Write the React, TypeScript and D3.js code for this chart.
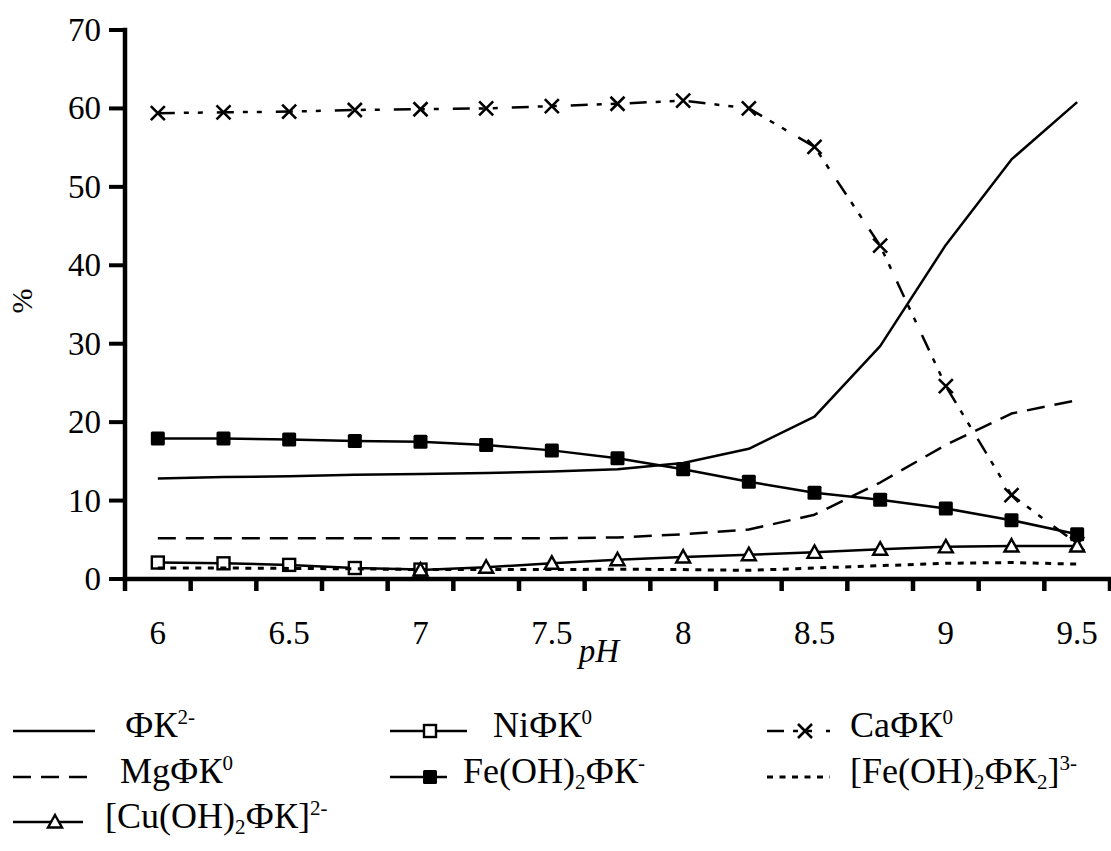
import { useEffect, useRef } from 'react';
import * as d3 from 'd3';

const WIDTH = 1111;
const HEIGHT = 851;
const PLOT = { left: 125, right: 1110, top: 30, bottom: 579 };
const FONT = "'Liberation Serif', 'Times New Roman', serif";
const TICK_FONT = 33;
const LEGEND_FONT = 36;
const SMALL_FONT = 21;

// pH categories (Excel category axis, label on every other one)
const PH = ['6', '6.25', '6.5', '6.75', '7', '7.25', '7.5', '7.75', '8', '8.25', '8.5', '8.75', '9', '9.25', '9.5'];
const Y_TICKS = [0, 10, 20, 30, 40, 50, 60, 70];

// series values, %
const PHI_K = [12.8, 13.0, 13.1, 13.3, 13.4, 13.5, 13.7, 14.0, 14.8, 16.6, 20.7, 29.7, 42.6, 53.5, 60.8];
const NI_PHI_K = [2.1, 2.0, 1.8, 1.4, 1.2, null, null, null, null, null, null, null, null, null, null];
const CA_PHI_K = [59.4, 59.5, 59.6, 59.8, 59.9, 60.0, 60.3, 60.6, 61.0, 60.0, 55.1, 42.5, 24.6, 10.7, 4.5];
const MG_PHI_K = [5.2, 5.2, 5.2, 5.2, 5.2, 5.2, 5.2, 5.3, 5.7, 6.3, 8.2, 12.3, 17.1, 21.1, 22.8];
const FE_OH2_PHI_K = [17.9, 17.9, 17.8, 17.6, 17.5, 17.1, 16.4, 15.4, 14.0, 12.4, 11.0, 10.1, 9.0, 7.5, 5.7];
const FE_OH2_PHI_K2 = [1.4, 1.4, 1.35, 1.3, 1.2, 1.2, 1.2, 1.25, 1.2, 1.1, 1.4, 1.7, 2.0, 2.1, 1.9];
const CU_OH2_PHI_K = [null, null, null, null, 1.15, 1.5, 2.0, 2.45, 2.8, 3.1, 3.4, 3.8, 4.1, 4.2, 4.2];

type Seg = { t: string; sup?: boolean; sub?: boolean };

const SERIES = [
  { key: 'phik', values: PHI_K, dash: null, marker: null,
    label: [{ t: 'ФК' }, { t: '2-', sup: true }] as Seg[],
    legend: { x0: 13, x1: 95, mx: 0, tx: 125, row: 0 } },
  { key: 'ni', values: NI_PHI_K, dash: null, marker: 'openSquare',
    label: [{ t: 'NiФК' }, { t: '0', sup: true }] as Seg[],
    legend: { x0: 390, x1: 467, mx: 430, tx: 493, row: 0 } },
  { key: 'ca', values: CA_PHI_K, dash: '17,9,5,9,5,14', marker: 'cross',
    label: [{ t: 'CaФК' }, { t: '0', sup: true }] as Seg[],
    legend: { x0: 767, x1: 830, mx: 805, tx: 850, row: 0 } },
  { key: 'mg', values: MG_PHI_K, dash: '18,10', marker: null,
    label: [{ t: 'MgФК' }, { t: '0', sup: true }] as Seg[],
    legend: { x0: 13, x1: 90, mx: 0, tx: 120, row: 1 } },
  { key: 'fe', values: FE_OH2_PHI_K, dash: null, marker: 'filledSquare',
    label: [{ t: 'Fe(OH)' }, { t: '2', sub: true }, { t: 'ФК' }, { t: '-', sup: true }] as Seg[],
    legend: { x0: 390, x1: 447, mx: 430, tx: 463, row: 1 } },
  { key: 'fe2', values: FE_OH2_PHI_K2, dash: '6,6.5', marker: null,
    label: [{ t: '[Fe(OH)' }, { t: '2', sub: true }, { t: 'ФК' }, { t: '2', sub: true }, { t: ']' }, { t: '3-', sup: true }] as Seg[],
    legend: { x0: 767, x1: 830, mx: 0, tx: 850, row: 1 } },
  { key: 'cu', values: CU_OH2_PHI_K, dash: null, marker: 'triangle',
    label: [{ t: '[Cu(OH)' }, { t: '2', sub: true }, { t: 'ФК]' }, { t: '2-', sup: true }] as Seg[],
    legend: { x0: 13, x1: 83, mx: 55, tx: 105, row: 2 } },
];

const LEGEND_ROWS = [731, 777, 822];

function drawMarker(g: any, type: string | null, cx: number, cy: number) {
  if (type === 'openSquare') {
    g.append('rect').attr('x', cx - 6).attr('y', cy - 6).attr('width', 12).attr('height', 12)
      .attr('fill', '#fff').attr('stroke', '#000').attr('stroke-width', 2.4);
  } else if (type === 'filledSquare') {
    g.append('rect').attr('x', cx - 7).attr('y', cy - 7).attr('width', 14).attr('height', 14)
      .attr('rx', 1.5).attr('fill', '#000');
  } else if (type === 'cross') {
    g.append('path').attr('d', `M${cx - 7},${cy - 7}L${cx + 7},${cy + 7}M${cx - 7},${cy + 7}L${cx + 7},${cy - 7}`)
      .attr('stroke', '#000').attr('stroke-width', 2.6).attr('fill', 'none');
  } else if (type === 'triangle') {
    g.append('path').attr('d', `M${cx},${cy - 7}L${cx + 7},${cy + 5.5}L${cx - 7},${cy + 5.5}Z`)
      .attr('fill', '#fff').attr('stroke', '#000').attr('stroke-width', 2.4).attr('stroke-linejoin', 'miter');
  }
}

function writeLabel(text: any, segs: Seg[]) {
  let offset = 0;
  segs.forEach(s => {
    const target = s.sup ? -13 : s.sub ? 6 : 0;
    text.append('tspan')
      .attr('dy', target - offset)
      .attr('font-family', FONT)
      .attr('font-size', s.sup || s.sub ? SMALL_FONT : LEGEND_FONT)
      .text(s.t);
    offset = target;
  });
}

export default function App() {
  const svgRef = useRef<SVGSVGElement>(null);

  useEffect(() => {
    const svg = d3.select(svgRef.current);
    svg.selectAll('*').remove();

    const x = d3.scaleBand().domain(PH).range([PLOT.left, PLOT.right]).paddingInner(0).paddingOuter(0);
    const y = d3.scaleLinear().domain([0, 70]).range([PLOT.bottom, PLOT.top]);
    const xc = (i: number) => (x(PH[i]) as number) + x.bandwidth() / 2;

    svg.append('rect').attr('width', WIDTH).attr('height', HEIGHT).attr('fill', '#fff');

    // Series
    const plot = svg.append('g');
    SERIES.forEach(s => {
      const line = d3.line<number | null>()
        .defined(v => v != null)
        .x((_, i) => xc(i))
        .y(v => y(v as number));
      plot.append('path')
        .attr('d', line(s.values))
        .attr('fill', 'none')
        .attr('stroke', '#000')
        .attr('stroke-width', s.dash === '6,6.5' ? 3 : 2.5)
        .attr('stroke-dasharray', s.dash)
        .attr('stroke-linejoin', 'round');
      if (s.marker) {
        const mg = plot.append('g');
        s.values.forEach((v, i) => {
          if (v != null) drawMarker(mg, s.marker, xc(i), y(v));
        });
      }
    });

    // Axes
    const axes = svg.append('g').attr('stroke', '#000').attr('stroke-linecap', 'square');
    axes.append('line').attr('x1', PLOT.left).attr('x2', PLOT.left)
      .attr('y1', PLOT.top).attr('y2', PLOT.bottom).attr('stroke-width', 4.5);
    axes.append('line').attr('x1', PLOT.left).attr('x2', PLOT.right)
      .attr('y1', PLOT.bottom).attr('y2', PLOT.bottom).attr('stroke-width', 4.5);

    axes.selectAll('.ytick')
      .data(Y_TICKS)
      .join('line')
      .attr('class', 'ytick')
      .attr('x1', PLOT.left - 14).attr('x2', PLOT.left)
      .attr('y1', d => y(d)).attr('y2', d => y(d))
      .attr('stroke-width', 4);

    const bounds = PH.map(c => x(c) as number).concat([PLOT.right]);
    axes.selectAll('.xtick')
      .data(bounds)
      .join('line')
      .attr('class', 'xtick')
      .attr('x1', d => d).attr('x2', d => d)
      .attr('y1', PLOT.bottom).attr('y2', PLOT.bottom + 12)
      .attr('stroke-width', 4.5)
      .attr('stroke-linecap', 'butt');

    const labels = svg.append('g').attr('fill', '#000');
    labels.selectAll('.ylab')
      .data(Y_TICKS)
      .join('text')
      .attr('class', 'ylab')
      .attr('x', 101)
      .attr('y', d => y(d) + 11)
      .attr('text-anchor', 'end')
      .attr('font-family', FONT)
      .attr('font-size', TICK_FONT)
      .text(d => d);

    labels.selectAll('.xlab')
      .data(PH.filter((_, i) => i % 2 === 0))
      .join('text')
      .attr('class', 'xlab')
      .attr('x', d => (x(d) as number) + x.bandwidth() / 2)
      .attr('y', 644)
      .attr('text-anchor', 'middle')
      .attr('font-family', FONT)
      .attr('font-size', TICK_FONT)
      .text(d => d);

    labels.append('text')
      .attr('x', 599).attr('y', 662)
      .attr('text-anchor', 'middle')
      .attr('font-family', FONT)
      .attr('font-size', TICK_FONT)
      .attr('font-style', 'italic')
      .text('pH');

    labels.append('text')
      .attr('transform', 'translate(32,301) rotate(-90)')
      .attr('text-anchor', 'middle')
      .attr('font-family', FONT)
      .attr('font-size', 30)
      .text('%');

    // Legend
    const legend = svg.append('g');
    SERIES.forEach(s => {
      const ly = LEGEND_ROWS[s.legend.row];
      const lg = legend.append('g');
      lg.append('line')
        .attr('x1', s.legend.x0).attr('x2', s.legend.x1)
        .attr('y1', ly).attr('y2', ly)
        .attr('stroke', '#000')
        .attr('stroke-width', s.dash === '6,6.5' ? 3 : 2.5)
        .attr('stroke-dasharray', s.dash);
      if (s.marker) drawMarker(lg, s.marker, s.legend.mx, ly);
      const t = lg.append('text')
        .attr('x', s.legend.tx).attr('y', ly + 6)
        .attr('font-family', FONT)
        .attr('font-size', LEGEND_FONT)
        .attr('fill', '#000');
      writeLabel(t, s.label);
    });
  }, []);

  return (
    <svg
      ref={svgRef}
      width={WIDTH}
      height={HEIGHT}
      style={{ position: 'absolute', left: 0, top: 0, display: 'block' }}
    />
  );
}
